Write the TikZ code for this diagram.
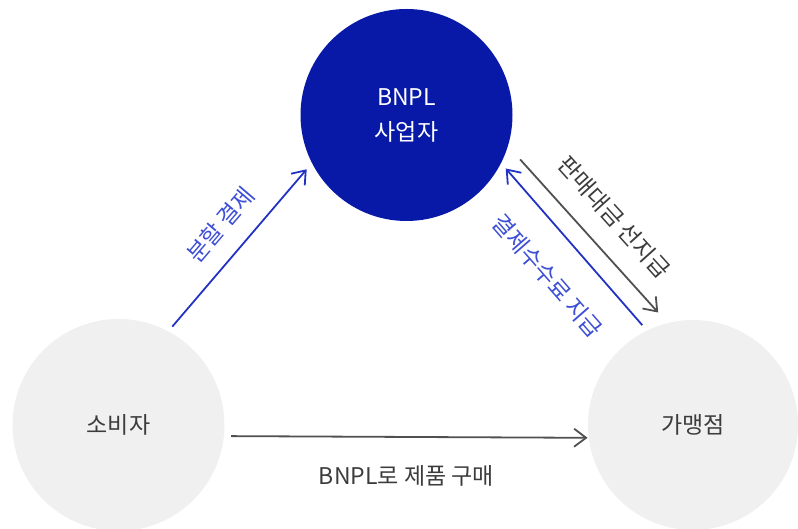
\documentclass[tikz,border=0pt]{standalone}
\usepackage{fontspec}
\newfontfamily\krfont{Noto Sans CJK KR}
\usetikzlibrary{arrows.meta}
\definecolor{bnplblue}{HTML}{0819A8}
\definecolor{linkblue}{HTML}{2233C4}
\definecolor{labelblue}{HTML}{3D4FD4}
\definecolor{partygray}{HTML}{F0F0F0}
\definecolor{linegray}{HTML}{505050}
\definecolor{textgray}{HTML}{3C3C3C}

\begin{document}
\begin{tikzpicture}[x=1pt, y=1pt,
    party/.style={circle, minimum size=212pt, inner sep=0pt, fill=partygray,
        text=textgray, font=\krfont\fontsize{23}{35}\selectfont, align=center},
    lender/.style={party, fill=bnplblue, text=white},
    flow/.style={line width=1.8pt, -{Straight Barb[length=12pt, width=18pt]}},
    blueflow/.style={flow, draw=linkblue},
    grayflow/.style={flow, draw=linegray},
    tag/.style={font=\krfont\fontsize{23}{27}\selectfont, inner sep=0pt}]
    \useasboundingbox (0,0) rectangle (798,529);
    % Define parties
    \node[lender] (bnpl) at (406.5,414) {BNPL\\사업자};
    \node[party] (buyer) at (118.5,104) {소비자};
    \node[party, minimum size=210pt] (shop) at (693,104) {가맹점};

    % Define flows
    \path
    (buyer.62.7) edge[blueflow, shorten <=6pt, shorten >=8pt]
        node[tag, text=labelblue, sloped, above=18pt, pos=0.52] {분할 결제} (bnpl.207.6)
    (bnpl.-17) edge[grayflow, shorten <=18pt, shorten >=14pt]
        node[tag, text=textgray, sloped, above=20pt, pos=0.52] {판매대금 선지급} (shop.104.3)
    (shop.116.1) edge[blueflow, shorten <=7pt, shorten >=7pt]
        node[tag, text=labelblue, sloped, below=28pt, pos=0.48] {결제수수료 지급} (bnpl.-27.8)
    (buyer.-6.6) edge[grayflow, shorten <=7pt, shorten >=1pt]
        node[tag, text=textgray, below=28pt] {BNPL로 제품 구매} (shop.187);
\end{tikzpicture}
\end{document}
